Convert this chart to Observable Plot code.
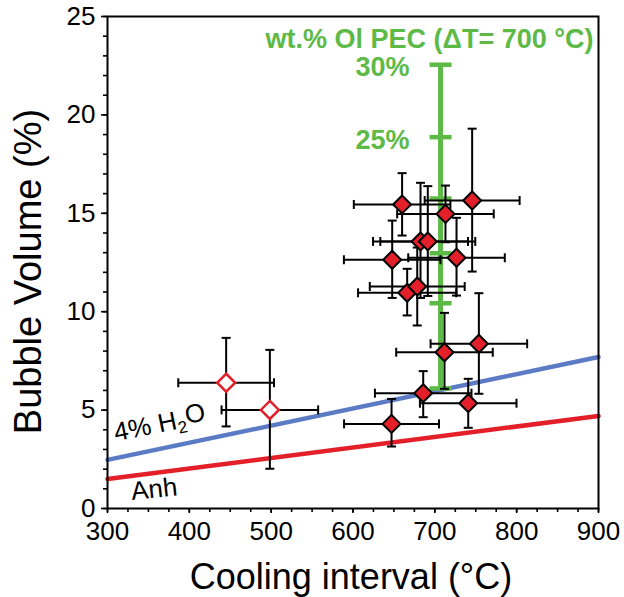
<!DOCTYPE html>
<html><head><meta charset="utf-8">
<script src="https://cdn.jsdelivr.net/npm/d3@7"></script>
<script src="https://cdn.jsdelivr.net/npm/@observablehq/plot@0.6"></script>
<style>body{margin:0;background:#fff;}</style>
</head><body><div id="chart"></div>
<script>
// Filled diamonds (samples)
const coolingInterval = [660, 745.6, 713, 682.5, 691.4, 647.9, 726.5, 666.2, 678.5, 711.8, 753.8, 685.8, 740.8, 647.1];
const bubbleVolume    = [15.45, 15.65, 14.97, 13.57, 13.57, 12.64, 12.74, 10.96, 11.28, 7.94, 8.37, 5.86, 5.35, 4.3];
const coolingErr      = [59, 58, 59, 58, 58, 59, 59, 60, 58, 59, 59, 59, 59, 58];
const volumeLow       = [13.87, 12.04, 13.53, 10.7, 10.8, 10.7, 10.82, 9.81, 9.3, 6.08, 5.83, 4.64, 4.1, 3.15];
const volumeHigh      = [17.04, 19.3, 16.41, 16.55, 16.38, 14.63, 14.77, 12.18, 13.26, 9.94, 10.94, 6.98, 6.59, 5.57];
// Open diamonds
const openCooling   = [445, 498.4];
const openVolume    = [6.39, 5.01];
const openCoolErr   = [58.5, 59];
const openVolLow    = [4.17, 2.02];
const openVolHigh   = [8.67, 8.06];
// Model lines
const modelX     = [300, 900];
const h2oModel   = [2.47, 7.7];
const anhModel   = [1.5, 4.7];
// Olivine PEC bar
const pecX = 707;
const pecTicks = [6.1, 10.43, 12.97, 15.75, 18.87, 22.55];
const pecLabels = ["30%", "25%"];
const pecLabelY = [22.55, 18.87];

const red = "#e3202a", blue = "#5b7bc4", green = "#5dba47";

const pts = coolingInterval.map((x, i) => ({x, y: bubbleVolume[i], xe: coolingErr[i], lo: volumeLow[i], hi: volumeHigh[i]}));
const opts = openCooling.map((x, i) => ({x, y: openVolume[i], xe: openCoolErr[i], lo: openVolLow[i], hi: openVolHigh[i]}));
const all = pts.concat(opts);

const hCap = {draw(ctx, size) {const r = Math.sqrt(size / Math.PI); ctx.moveTo(-r, 0); ctx.lineTo(r, 0);}};
const vCap = {draw(ctx, size) {const r = Math.sqrt(size / Math.PI); ctx.moveTo(0, -r); ctx.lineTo(0, r);}};

const font = "'Liberation Sans', Arial, Helvetica, sans-serif";

const chart = Plot.plot({
  width: 624, height: 597,
  marginLeft: 107, marginRight: 26, marginTop: 16, marginBottom: 89,
  style: {fontFamily: font, background: "#fff", color: "#000"},
  x: {domain: [300, 900]},
  y: {domain: [0, 25]},
  marks: [
    Plot.axisX({ticks: d3.range(300, 901, 25), tickSize: 4, text: null, strokeWidth: 1.6, label: null}),
    Plot.axisX({ticks: d3.range(300, 901, 100), tickSize: 5, tickPadding: 8, fontSize: 26, strokeWidth: 1.6, label: null}),
    Plot.axisY({ticks: d3.range(0, 26, 1), tickSize: 4, text: null, strokeWidth: 1.6, label: null}),
    Plot.axisY({ticks: [0, 5, 10, 15, 20, 25], tickSize: 6, tickPadding: 6, fontSize: 26, strokeWidth: 1.6, label: null}),
    Plot.line(modelX.map((x, i) => ({x, y: anhModel[i]})), {x: "x", y: "y", stroke: red, strokeWidth: 4.5}),
    Plot.line(modelX.map((x, i) => ({x, y: h2oModel[i]})), {x: "x", y: "y", stroke: blue, strokeWidth: 4.5}),
    Plot.ruleX([pecX], {x: d => d, y1: d3.min(pecTicks), y2: d3.max(pecTicks), stroke: green, strokeWidth: 5}),
    Plot.dot(pecTicks, {x: () => pecX, y: d => d, symbol: hCap, r: 11, stroke: green, strokeWidth: 4.5, fill: "none"}),
    // error bars
    Plot.ruleY(all, {y: "y", x1: d => d.x - d.xe, x2: d => d.x + d.xe, stroke: "black", strokeWidth: 2}),
    Plot.ruleX(all, {x: "x", y1: "lo", y2: "hi", stroke: "black", strokeWidth: 2}),
    Plot.dot(all, {x: d => d.x - d.xe, y: "y", symbol: vCap, r: 4.5, stroke: "black", strokeWidth: 2, fill: "none"}),
    Plot.dot(all, {x: d => d.x + d.xe, y: "y", symbol: vCap, r: 4.5, stroke: "black", strokeWidth: 2, fill: "none"}),
    Plot.dot(all, {x: "x", y: "lo", symbol: hCap, r: 4.5, stroke: "black", strokeWidth: 2, fill: "none"}),
    Plot.dot(all, {x: "x", y: "hi", symbol: hCap, r: 4.5, stroke: "black", strokeWidth: 2, fill: "none"}),
    // diamonds
    Plot.dot(pts, {x: "x", y: "y", symbol: "diamond2", r: 8.1, fill: red, stroke: "black", strokeWidth: 2}),
    Plot.dot(opts, {x: "x", y: "y", symbol: "diamond2", r: 8.1, fill: "white", stroke: red, strokeWidth: 2.5}),
    // labels
    Plot.text(["4% H2O"], {x: () => 364, y: () => 4.3, text: d => d, rotate: -11.5, fontSize: 26}),
    Plot.text(["Anh"], {x: () => 357, y: () => 0.97, text: d => d, rotate: -6, fontSize: 26}),
    Plot.text(["wt.% Ol PEC (\u0394T= 700 \u00b0C)"], {x: () => 894, y: () => 23.85, text: d => d, textAnchor: "end", fontSize: 27, fontWeight: "bold", fill: green}),
    Plot.text(pecLabels, {x: () => 669, y: (d, i) => pecLabelY[i], text: d => d, textAnchor: "end", fontSize: 27, fontWeight: "bold", fill: green, dy: 3}),
    Plot.text(["Cooling interval (\u00b0C)"], {frameAnchor: "bottom", dy: 80, dx: -2, text: d => d, fontSize: 36}),
    Plot.text(["Bubble Volume (%)"], {frameAnchor: "left", textAnchor: "middle", lineAnchor: "middle", dx: -79, dy: 9, rotate: -90, text: d => d, fontSize: 38}),
    Plot.frame({stroke: "black", strokeWidth: 2})
  ]
});
document.getElementById("chart").appendChild(chart);

// subscript for H2O
d3.select(chart).selectAll("text").filter(function() { return this.textContent === "4% H2O"; }).each(function() {
  const t = d3.select(this);
  t.text(null);
  t.append("tspan").text("4% H");
  t.append("tspan").attr("font-size", 17).attr("dy", "0.3em").text("2");
  t.append("tspan").attr("dy", "-0.3em").text("O");
});
</script>
</body></html>
